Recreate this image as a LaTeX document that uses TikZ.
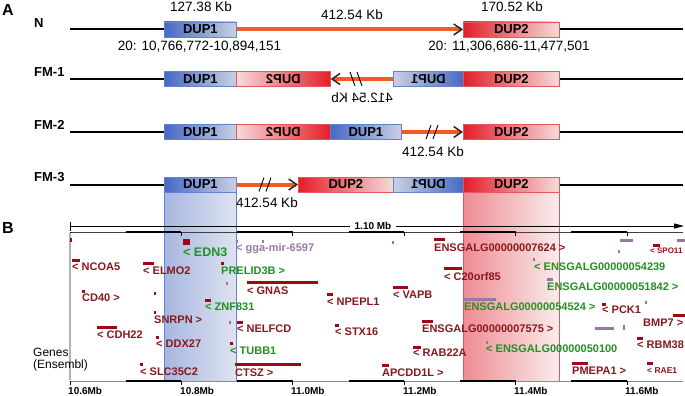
\documentclass[tikz,border=0pt]{standalone}
\usepackage{fontspec}
\setmainfont{Liberation Sans}
\usepackage{graphicx}
\usetikzlibrary{arrows.meta}
\definecolor{d1dark}{RGB}{70,105,195}
\definecolor{d1light}{RGB}{200,208,228}
\definecolor{d1edge}{RGB}{100,130,210}
\definecolor{d2dark}{RGB}{228,30,40}
\definecolor{d2light}{RGB}{246,218,218}
\definecolor{d2edge}{RGB}{232,85,95}
\definecolor{orng}{RGB}{245,90,35}
\definecolor{gred}{RGB}{155,10,20}
\definecolor{gtxt}{RGB}{135,25,30}
\definecolor{ggreen}{RGB}{35,145,35}
\definecolor{gpurp}{RGB}{150,120,165}
\definecolor{cb1}{RGB}{168,183,224}
\definecolor{cb2}{RGB}{222,227,240}
\definecolor{cr1}{RGB}{238,140,146}
\definecolor{cr2}{RGB}{251,236,236}
\tikzset{
 blk/.style={line width=2pt, black},
 org/.style={draw=orng, line width=4pt, -{Straight Barb[length=8pt, width=11pt, line width=1.5pt, color=black!85]}},
 dupbase/.style={draw, line width=0.7pt, inner sep=0pt, minimum height=15pt, anchor=west, font=\fontsize{13}{13}\selectfont\bfseries},
 dupA/.style={dupbase, draw=d1edge, left color=d1dark, right color=d1light},
 dupAm/.style={dupbase, draw=d1edge, left color=d1light, right color=d1dark},
 dupB/.style={dupbase, draw=d2edge, left color=d2dark, right color=d2light},
 dupBm/.style={dupbase, draw=d2edge, left color=d2light, right color=d2dark},
 rowlab/.style={anchor=west, inner sep=0pt, font=\fontsize{13}{13}\selectfont\bfseries},
 kb/.style={inner sep=0pt, font=\fontsize{13.5}{13.5}\selectfont},
 gl/.style={anchor=west, inner sep=0pt, font=\fontsize{11}{11}\selectfont\bfseries, text=gtxt},
 gg/.style={gl, text=ggreen},
 gp/.style={gl, text=gpurp},
 gs/.style={gl, font=\fontsize{8.5}{8.5}\selectfont\bfseries},
 axl/.style={anchor=west, inner sep=0pt, font=\fontsize{10}{10}\selectfont\bfseries},
 brk/.pic={\draw[line width=0.9pt] (-6,7) -- (-1,-7) (1,7) -- (6,-7);},
 brkm/.pic={\draw[line width=0.9pt] (-6,-7) -- (-1,7) (1,-7) -- (6,7);},
}
\begin{document}
\begin{tikzpicture}[x=1pt,y=-1pt]
\fill[white] (0,0) rectangle (685,396);
\useasboundingbox (0,0) rectangle (685,396);

% panel letters
\node[anchor=west, inner sep=0pt, font=\fontsize{16}{16}\selectfont\bfseries] (pA) at (2,10) {A};
\node[anchor=west, inner sep=0pt, font=\fontsize{16}{16}\selectfont\bfseries] (pB) at (2,228) {B};

% highlight columns
\shade[left color=cb1, right color=cb2] (164,177) rectangle (236,381);
\draw[d1edge, line width=0.8pt] (164,177) rectangle (236,381);
\shade[left color=cr1, right color=cr2] (463,177) rectangle (559,381);
\draw[d2edge, line width=0.8pt] (463,177) rectangle (559,381);

% ---- Row N
\node[rowlab] (lN) at (34,23) {N};
\coordinate (nL) at (70,29.5);
\coordinate (nR) at (683,29.5);
\node[dupA, minimum width=72pt] (n1) at (164,29.5) {DUP1};
\node[dupB, minimum width=96pt] (n2) at (463,29.5) {DUP2};
\draw[blk] (nL) -- (n1.west);
\draw[blk] (n2.east) -- (nR);
\draw[org] (n1.east) -- (n2.west);
\node[kb] (k1) at (201,7) {127.38 Kb};
\node[kb] (k2) at (352,15) {412.54 Kb};
\node[kb] (k3) at (512,7) {170.52 Kb};
\node[kb] (c1) at (199.5,47) {20: 10,766,772-10,894,151};
\node[kb] (c2) at (509,47) {20: 11,306,686-11,477,501};

% ---- Row FM-1
\node[rowlab] (l1) at (34,72) {FM-1};
\coordinate (aL) at (70,79);
\coordinate (aR) at (683,79);
\node[dupA, minimum width=72pt] (a1) at (164,79) {DUP1};
\node[dupBm, minimum width=94pt] (a2) at (236,79) {\reflectbox{DUP2}};
\node[dupAm, minimum width=70pt] (a3) at (393,79) {\reflectbox{DUP1}};
\node[dupB, minimum width=96pt] (a4) at (463,79) {DUP2};
\draw[blk] (aL) -- (a1.west);
\draw[blk] (a4.east) -- (aR);
\draw[org] (a3.west) -- (a2.east);
\pic at (356,79) {brkm};
\node[kb] (ka) at (362,98) {\reflectbox{412.54 Kb}};

% ---- Row FM-2
\node[rowlab] (l2) at (34,125) {FM-2};
\coordinate (bL) at (70,132);
\coordinate (bR) at (683,132);
\node[dupA, minimum width=72pt] (b1) at (164,132) {DUP1};
\node[dupBm, minimum width=94pt] (b2) at (236,132) {\reflectbox{DUP2}};
\node[dupA, minimum width=71pt] (b3) at (330,132) {DUP1};
\node[dupB, minimum width=96pt] (b4) at (463,132) {DUP2};
\draw[blk] (bL) -- (b1.west);
\draw[blk] (b4.east) -- (bR);
\draw[org] (b3.east) -- (b4.west);
\pic at (432,132) {brk};
\node[kb] (kb2) at (433,152) {412.54 Kb};

% ---- Row FM-3
\node[rowlab] (l3) at (34,177) {FM-3};
\coordinate (cL) at (70,184.5);
\coordinate (cR) at (683,184.5);
\node[dupA, minimum width=72pt] (d1) at (164,184.5) {DUP1};
\node[dupB, minimum width=95pt] (d2) at (298,184.5) {DUP2};
\node[dupAm, minimum width=70pt] (d3) at (393,184.5) {\reflectbox{DUP1}};
\node[dupB, minimum width=96pt] (d4) at (463,184.5) {DUP2};
\draw[blk] (cL) -- (d1.west);
\draw[blk] (d4.east) -- (cR);
\draw[org] (d1.east) -- (d2.west);
\pic at (265,184.5) {brk};
\node[kb] (kc) at (267,203) {412.54 Kb};

% ---- Panel B scale
\coordinate (sL) at (70,226);
\coordinate (sR) at (684,226);
\draw[line width=0.9pt, {Bar[width=9pt]}-{Triangle[length=10pt,width=5pt]}] (sL) -- (sR);
\node[fill=white, inner xsep=5pt, inner ysep=1pt, font=\fontsize{10}{10}\selectfont\bfseries] (mb) at (373,226) {1.10 Mb};

% rulers
\draw[line width=0.8pt, black!75] (70,232) -- (683,232);
\draw[line width=0.8pt, black!45] (70,381) -- (683,381);
\foreach \i in {1,3,5,7,9} {
  \draw[line width=2.2pt] ({70+\i*55.7},232) -- ({70+(\i+1)*55.7},232);
  \draw[line width=2.2pt] ({70+\i*55.7},381) -- ({70+(\i+1)*55.7},381);
}
\foreach \i in {0,2,4,6,8,10} {
  \draw[line width=0.8pt] ({70+\i*55.7},232) -- ++(0,3.5);
  \draw[line width=0.8pt] ({70+\i*55.7},381) -- ++(0,3.5);
}
\draw[black!30, line width=1.2pt] (70,233) -- (70,380);

\node[axl] (t1) at (68,391) {10.6Mb};
\node[axl] (t2) at (180,391) {10.8Mb};
\node[axl] (t3) at (291,391) {11.0Mb};
\node[axl] (t4) at (403,391) {11.2Mb};
\node[axl] (t5) at (514,391) {11.4Mb};
\node[axl] (t6) at (625,391) {11.6Mb};

\node[anchor=west, align=left, inner sep=0pt, font=\fontsize{12}{11.5}\selectfont] (genes) at (33,359.5) {Genes\\(Ensembl)};

% purple bars
\fill[gpurp] (235.5,239.5) rectangle (237.5,242.5);
\fill[gpurp] (261.5,239.5) rectangle (263.5,242.5);
\fill[gpurp] (226,281.5) rectangle (228,284.5);
\fill[gpurp] (229,320.5) rectangle (231,323.5);
\fill[gpurp] (392,240.5) rectangle (394,243.5);
\fill[gpurp] (620,238.5) rectangle (633,241.5);
\fill[gpurp] (618,249.5) rectangle (620,252.5);
\fill[gpurp] (677,238.5) rectangle (685,241.5);
\fill[gpurp] (533,257.5) rectangle (535,260.5);
\fill[gpurp] (547,277.5) rectangle (553,280.5);
\fill[gpurp] (464,297.5) rectangle (496,300.5);
\fill[gpurp] (645,300.5) rectangle (647,303.5);
\fill[gpurp] (595,326.5) rectangle (614,329.5);
\fill[gpurp] (623,325) rectangle (625,330);
\fill[gpurp] (486,340.5) rectangle (488,343.5);

% red bars
\fill[gred] (70,238) rectangle (71.8,242);
\fill[gred] (72,258.5) rectangle (80,261.5);
\fill[gred] (143,262) rectangle (154,265);
\fill[gred] (82,289.5) rectangle (84.5,292.5);
\fill[gred] (153.5,292) rectangle (155.5,295);
\fill[gred] (153.5,311) rectangle (155.5,314);
\fill[gred] (183,238.5) rectangle (190,244.5);
\fill[gred] (221,261.5) rectangle (224,264.5);
\fill[gred] (205,298.5) rectangle (211,301.5);
\fill[gred] (97,325.5) rectangle (117,328.5);
\fill[gred] (156,335.5) rectangle (158.5,338.5);
\fill[gred] (140,362.5) rectangle (142.5,365.5);
\fill[gred] (237,320.5) rectangle (243,323.5);
\fill[gred] (230,341.5) rectangle (232.5,344.5);
\fill[gred] (235,362.5) rectangle (301,365.5);
\fill[gred] (247,280.5) rectangle (318,283.5);
\fill[gred] (327,292.5) rectangle (333,295.5);
\fill[gred] (335,323.5) rectangle (339,326.5);
\fill[gred] (393,285.5) rectangle (408,288.5);
\fill[gred] (382,363.5) rectangle (389,366.5);
\fill[gred] (413,345.5) rectangle (421,348.5);
\fill[gred] (422,319.5) rectangle (433,322.5);
\fill[gred] (434,238) rectangle (445,241);
\fill[gred] (444,266.5) rectangle (462,269.5);
\fill[gred] (602,302.5) rectangle (606,305.5);
\fill[gred] (653,243.5) rectangle (660,246.5);
\fill[gred] (673,313.5) rectangle (685,316.5);
\fill[gred] (637,336.5) rectangle (643,339.5);
\fill[gred] (572,361.5) rectangle (588,364.5);
\fill[gred] (647,361.5) rectangle (653,364.5);

% gene labels
\node[gl] (g1) at (72,267) {< NCOA5};
\node[gl] (g2) at (143,271) {< ELMO2};
\node[gl] (g3) at (82,298) {CD40 >};
\node[gl] (g4) at (154,320) {SNRPN >};
\node[gl] (g5) at (97,335) {< CDH22};
\node[gl] (g6) at (156,344) {< DDX27};
\node[gl] (g7) at (140,372) {< SLC35C2};
\node[gg, font=\fontsize{12.5}{12.5}\selectfont\bfseries] (g8) at (183,252) {< EDN3};
\node[gg] (g9) at (221,271) {PRELID3B >};
\node[gg] (g10) at (205,307) {< ZNF831};
\node[gg] (g11) at (230,351) {< TUBB1};
\node[gl] (g12) at (237,329) {< NELFCD};
\node[gl] (g13) at (235,373) {CTSZ >};
\node[gp] (g14) at (236,249) {< gga-mir-6597};
\node[gl] (g15) at (247,291) {< GNAS};
\node[gl] (g16) at (327,302) {< NPEPL1};
\node[gl] (g17) at (335,332) {< STX16};
\node[gl] (g18) at (393,295) {< VAPB};
\node[gl] (g19) at (382,373) {APCDD1L >};
\node[gl] (g20) at (413,353) {< RAB22A};
\node[gl] (g21) at (422,329) {ENSGALG00000007575 >};
\node[gl] (g22) at (434,248) {ENSGALG00000007624 >};
\node[gl] (g23) at (444,277) {< C20orf85};
\node[gg] (g24) at (534,267) {< ENSGALG00000054239};
\node[gg] (g25) at (547,287) {ENSGALG00000051842 >};
\node[gg] (g26) at (464,307) {ENSGALG00000054524 >};
\node[gg] (g27) at (486,349) {< ENSGALG00000050100};
\node[gl] (g28) at (602,310) {< PCK1};
\node[gs, font=\fontsize{8}{8}\selectfont\bfseries] (g29) at (650,251) {< SPO11};
\node[gl] (g30) at (643,323) {BMP7 >};
\node[gl] (g31) at (637,345) {< RBM38};
\node[gl] (g32) at (572,371) {PMEPA1 >};
\node[gs] (g33) at (647,371) {< RAE1};
\end{tikzpicture}
\end{document}
